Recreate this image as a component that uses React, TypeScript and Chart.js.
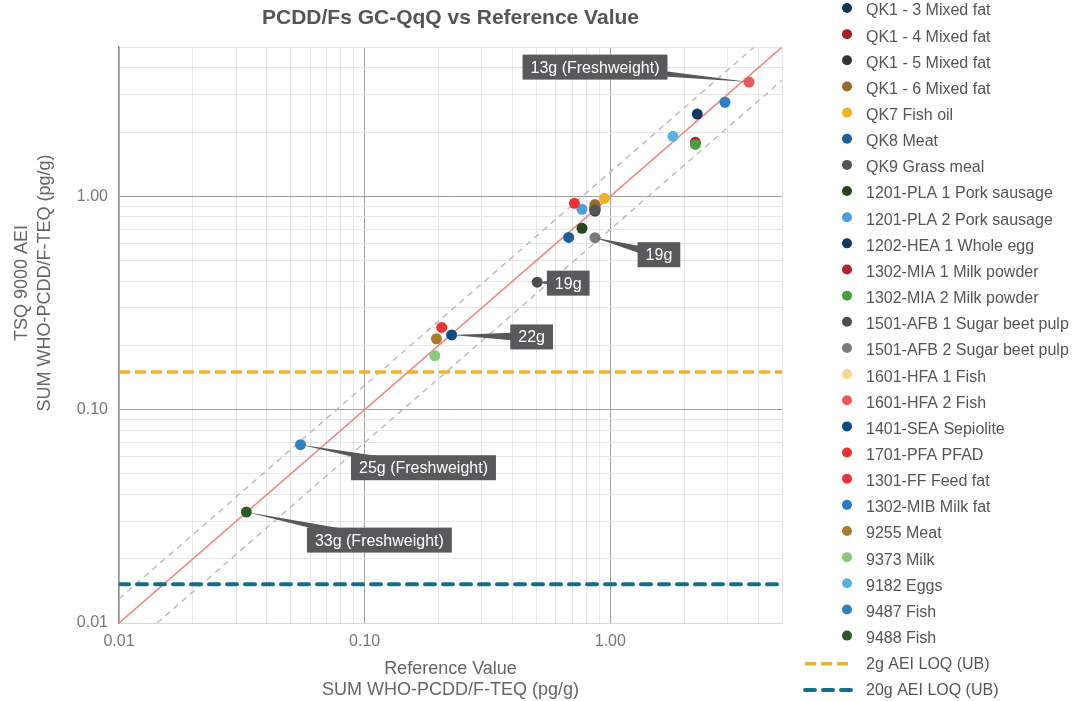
import { useEffect, useRef } from "react";
import { Chart, registerables } from "chart.js";

Chart.register(...registerables);

// ---------- data ----------
const seriesNames = [
  "QK1 - 3 Mixed fat",
  "QK1 - 4 Mixed fat",
  "QK1 - 5 Mixed fat",
  "QK1 - 6 Mixed fat",
  "QK7 Fish oil",
  "QK8 Meat",
  "QK9 Grass meal",
  "1201-PLA 1 Pork sausage",
  "1201-PLA 2 Pork sausage",
  "1202-HEA 1 Whole egg",
  "1302-MIA 1 Milk powder",
  "1302-MIA 2 Milk powder",
  "1501-AFB 1 Sugar beet pulp",
  "1501-AFB 2 Sugar beet pulp",
  "1601-HFA 1 Fish",
  "1601-HFA 2 Fish",
  "1401-SEA Sepiolite",
  "1701-PFA PFAD",
  "1301-FF Feed fat",
  "1302-MIB Milk fat",
  "9255 Meat",
  "9373 Milk",
  "9182 Eggs",
  "9487 Fish",
  "9488 Fish",
];

const seriesColors = [
  "#0e3559", "#a61e22", "#333333", "#956a2a", "#f0b323", "#1d5e9c", "#555555",
  "#25451b", "#4e9edb", "#0e3a62", "#b41f29", "#4c9c41", "#4d4d4f", "#7a7b7d",
  "#f5d68c", "#ea5b5b", "#0a4c86", "#ee3233", "#ee3535", "#2c7cc6", "#a87c2c",
  "#86c97a", "#5cb0e4", "#2e80c3", "#2b5b25",
];

// Reference value (x), SUM WHO-PCDD/F-TEQ (pg/g)
const referenceValues = [
  0.866, 0.866, 0.866, 0.866, 0.946, 0.677, 0.866, 0.767, 0.767, 2.26, 2.22, 2.22,
  0.504, 0.866, 3.67, 3.67, 0.226, 0.714, 0.206, 2.93, 0.196, 0.193, 1.8, 0.0548, 0.033,
];

// TSQ 9000 AEI (y), SUM WHO-PCDD/F-TEQ (pg/g)
const aeiValues = [
  0.853, 0.87, 0.885, 0.915, 0.979, 0.642, 0.862, 0.708, 0.869, 2.43, 1.79, 1.75,
  0.396, 0.64, 3.43, 3.43, 0.224, 0.927, 0.243, 2.76, 0.215, 0.179, 1.91, 0.0685, 0.0331,
];

const pointLabels = [
  "", "", "", "", "", "", "", "", "", "", "", "",
  "19g", "19g", "", "13g (Freshweight)", "22g", "", "", "", "", "", "",
  "25g (Freshweight)", "33g (Freshweight)",
];

const loqNames = ["2g AEI LOQ (UB)", "20g AEI LOQ (UB)"];
const loqValues = [0.15, 0.0152];

const axisMin = 0.01;
const axisMax = 5;
const lowerFactor = 0.7;
const upperFactor = 1.3;

const tickValues = [
  0.01, 0.02, 0.03, 0.04, 0.05, 0.06, 0.07, 0.08, 0.09,
  0.1, 0.2, 0.3, 0.4, 0.5, 0.6, 0.7, 0.8, 0.9,
  1, 2, 3, 4, 5,
];

const chartTitle = "PCDD/Fs GC-QqQ vs Reference Value";
const xTitle = ["Reference Value", "SUM WHO-PCDD/F-TEQ (pg/g)"];
const yTitle = ["TSQ 9000 AEI", "SUM WHO-PCDD/F-TEQ (pg/g)"];

// ---------- styles ----------
const FONT = '"Liberation Sans", Arial, sans-serif';
const labelOffsets: Record<string, [number, number]> = {
  "1501-AFB 1 Sugar beet pulp": [31, 1],
  "1501-AFB 2 Sugar beet pulp": [64, 17],
  "1601-HFA 2 Fish": [-154, -15],
  "1401-SEA Sepiolite": [80, 2],
  "9487 Fish": [123, 23],
  "9488 Fish": [133, 28],
};

const isDecade = (v: number) =>
  Math.abs(Math.log10(v) - Math.round(Math.log10(v))) < 1e-6;

const legendPlugin = {
  id: "sideLegend",
  afterDraw(chart: any) {
    const ctx = chart.ctx as CanvasRenderingContext2D;
    ctx.save();
    ctx.font = `16px ${FONT}`;
    ctx.textBaseline = "middle";
    ctx.textAlign = "left";
    let i = 0;
    chart.data.datasets.forEach((ds: any) => {
      if (ds.inLegend === false) return;
      const y = 10 + i * 26.15;
      if (ds.showLine) {
        ctx.save();
        ctx.strokeStyle = ds.borderColor;
        ctx.lineWidth = ds.borderWidth;
        ctx.setLineDash(ds.borderDash || []);
        ctx.lineCap = ds.borderCapStyle || "butt";
        ctx.beginPath();
        ctx.moveTo(805, y);
        ctx.lineTo(852, y);
        ctx.stroke();
        ctx.restore();
      } else {
        ctx.fillStyle = ds.backgroundColor;
        ctx.beginPath();
        ctx.arc(847, y - 2, 5, 0, Math.PI * 2);
        ctx.fill();
      }
      ctx.fillStyle = "#555";
      ctx.fillText(ds.label, 866, y + 1);
      i++;
    });
    ctx.restore();
  },
};

const yTitlePlugin = {
  id: "yTitle",
  afterDraw(chart: any) {
    const ctx = chart.ctx as CanvasRenderingContext2D;
    ctx.save();
    ctx.font = `18px ${FONT}`;
    ctx.fillStyle = "#666666";
    ctx.textAlign = "center";
    ctx.textBaseline = "middle";
    const cy = 283;
    yTitle.forEach((t, i) => {
      ctx.save();
      ctx.translate(22 + i * 23, cy);
      ctx.rotate(-Math.PI / 2);
      ctx.fillText(t, 0, 0);
      ctx.restore();
    });
    ctx.restore();
  },
};

const annotationPlugin = {
  id: "pointAnnotations",
  afterDatasetsDraw(chart: any) {
    const ctx = chart.ctx as CanvasRenderingContext2D;
    ctx.save();
    ctx.font = `16px ${FONT}`;
    chart.data.datasets.forEach((ds: any, di: number) => {
      if (!ds.pointLabel) return;
      const el = chart.getDatasetMeta(di).data[0];
      if (!el) return;
      const off = labelOffsets[ds.label] || [60, 10];
      const px = el.x;
      const py = el.y;
      const bx = px + off[0];
      const by = py + off[1];
      const dx = bx - px;
      const dy = by - py;
      const len = Math.hypot(dx, dy) || 1;
      const nx = -dy / len;
      const ny = dx / len;
      const hw = 5;
      ctx.fillStyle = "#58595b";
      ctx.beginPath();
      ctx.moveTo(px, py);
      ctx.lineTo(bx + nx * hw, by + ny * hw);
      ctx.lineTo(bx - nx * hw, by - ny * hw);
      ctx.closePath();
      ctx.fill();
      const w = ctx.measureText(ds.pointLabel).width + 16;
      const h = 25;
      ctx.fillRect(bx - w / 2, by - h / 2, w, h);
      ctx.fillStyle = "#ffffff";
      ctx.textAlign = "center";
      ctx.textBaseline = "middle";
      ctx.fillText(ds.pointLabel, bx, by + 1);
    });
    ctx.restore();
  },
};

export default function App() {
  const canvasRef = useRef<HTMLCanvasElement | null>(null);

  useEffect(() => {
    if (!canvasRef.current) return;
    Chart.defaults.font.family = FONT;

    const pointSets = seriesNames.map((name, i) => ({
      label: name,
      data: [{ x: referenceValues[i], y: aeiValues[i] }],
      backgroundColor: seriesColors[i],
      borderColor: seriesColors[i],
      pointRadius: 5.5,
      pointBorderWidth: 0,
      showLine: false,
      order: -i,
      pointLabel: pointLabels[i],
    }));

    const loqColors = ["#efb22a", "#146e8a"];
    const loqWidths = [3.5, 4];
    const loqDash = [[11, 5], [10, 8]];
    const loqCaps = ["butt", "round"];
    const loqSets = loqNames.map((name, i) => ({
      label: name,
      data: [
        { x: axisMin, y: loqValues[i] },
        { x: axisMax, y: loqValues[i] },
      ],
      showLine: true,
      borderColor: loqColors[i],
      backgroundColor: loqColors[i],
      borderWidth: loqWidths[i],
      borderDash: loqDash[i],
      borderCapStyle: loqCaps[i],
      pointRadius: 0,
      order: 100,
    }));

    const refLines = [
      {
        label: "1:1",
        data: [
          { x: axisMin, y: axisMin },
          { x: axisMax, y: axisMax },
        ],
        borderColor: "#f08683",
        borderWidth: 1.6,
        borderDash: [],
      },
      {
        label: "+30%",
        data: [
          { x: axisMin, y: axisMin * upperFactor },
          { x: axisMax / upperFactor, y: axisMax },
        ],
        borderColor: "#bdbdbd",
        borderWidth: 1.5,
        borderDash: [6, 5],
      },
      {
        label: "-30%",
        data: [
          { x: axisMin / lowerFactor, y: axisMin },
          { x: axisMax, y: axisMax * lowerFactor },
        ],
        borderColor: "#bdbdbd",
        borderWidth: 1.5,
        borderDash: [6, 5],
      },
    ].map((d) => ({
      ...d,
      showLine: true,
      pointRadius: 0,
      inLegend: false,
      order: 200,
    }));

    const setTicks = (scale: any) => {
      scale.ticks = tickValues.map((v) => ({ value: v, major: isDecade(v) }));
    };
    const gridColor = (ctx: any) => {
      const v = ctx.tick?.value;
      if (v === undefined) return "#e6e6e6";
      if (v === axisMin) return "#dcdcdc";
      return isDecade(v) ? "#9f9f9f" : "#e6e6e6";
    };
    const tickCb = (value: any) => {
      const v = Number(value);
      return isDecade(v) ? v.toFixed(2) : "";
    };

    const chart = new Chart(canvasRef.current, {
      type: "scatter",
      data: { datasets: [...pointSets, ...loqSets, ...refLines] as any },
      options: {
        animation: false,
        responsive: true,
        maintainAspectRatio: false,
        layout: { padding: { left: 0, right: 305, top: 0, bottom: 0 } },
        plugins: {
          legend: { display: false },
          tooltip: { enabled: false },
          title: {
            display: true,
            text: chartTitle,
            color: "#555555",
            fullSize: false,
            font: { size: 21, weight: "bold", family: FONT, lineHeight: 1.2 },
            padding: { top: 6, bottom: 16 },
          },
        },
        scales: {
          x: {
            type: "logarithmic",
            min: axisMin,
            max: axisMax,
            afterBuildTicks: setTicks,
            afterFit: (s: any) => {
              s.height = 78;
            },
            grid: { color: gridColor, drawTicks: false, lineWidth: 1 },
            border: { color: "#d8d8d8", width: 1 },
            ticks: {
              autoSkip: false,
              maxRotation: 0,
              callback: tickCb,
              color: "#777777",
              font: { size: 16 },
              padding: 9,
            },
            title: {
              display: true,
              text: xTitle,
              color: "#666666",
              font: { size: 18, lineHeight: 1.2 },
              padding: { top: 0, bottom: 0 },
            },
          },
          y: {
            type: "logarithmic",
            min: axisMin,
            max: axisMax,
            afterBuildTicks: setTicks,
            afterFit: (s: any) => {
              s.width = 119;
            },
            grid: { color: gridColor, drawTicks: false, lineWidth: 1 },
            border: { color: "#8c8c8c", width: 1.5 },
            ticks: {
              autoSkip: false,
              callback: tickCb,
              color: "#777777",
              font: { size: 16 },
              padding: 11,
            },
            title: { display: false },
          },
        },
      } as any,
      plugins: [annotationPlugin, legendPlugin, yTitlePlugin],
    });

    return () => chart.destroy();
  }, []);

  return (
    <div
      style={{
        position: "fixed",
        left: 0,
        top: 0,
        width: 1087,
        height: 701,
        overflow: "hidden",
        background: "#ffffff",
      }}
    >
      <canvas ref={canvasRef} />
    </div>
  );
}
